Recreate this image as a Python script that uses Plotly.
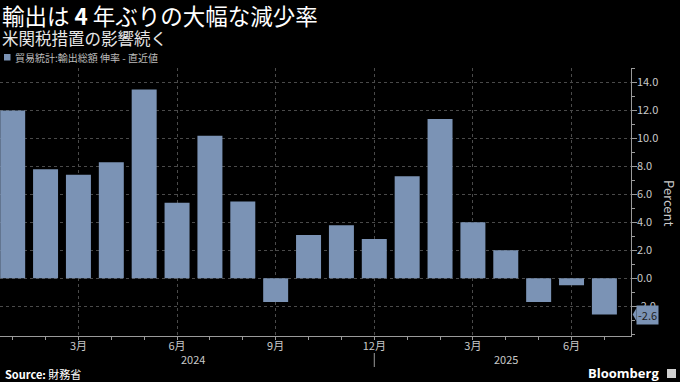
import plotly.graph_objects as go

# ---- data ----
months = ["2024-01", "2024-02", "2024-03", "2024-04", "2024-05", "2024-06", "2024-07",
          "2024-08", "2024-09", "2024-10", "2024-11", "2024-12", "2025-01", "2025-02",
          "2025-03", "2025-04", "2025-05", "2025-06", "2025-07"]
export_growth = [12.0, 7.8, 7.4, 8.3, 13.5, 5.4, 10.2, 5.5, -1.7, 3.1, 3.8, 2.8,
                 7.3, 11.4, 4.0, 2.0, -1.7, -0.5, -2.6]
quarter_idx = [2, 5, 8, 11, 14, 17]
quarter_labels = ["3月", "6月", "9月", "12月", "3月", "6月"]
years = ["2024", "2025"]
y_tickvals = [-2, 0, 2, 4, 6, 8, 10, 12, 14]

W, H = 680, 382
def px(x):
    return x / W
def py(y):
    return 1 - y / H

BAR = "#7b93b5"
FONT = "Noto Sans CJK JP"
TICKC = "#c9c9c9"

x_idx = list(range(len(months)))

fig = go.Figure()
fig.add_trace(go.Bar(x=x_idx, y=export_growth, marker=dict(color=BAR, line=dict(width=0)),
                     showlegend=False, hoverinfo="skip"))

fig.update_layout(
    width=W, height=H,
    margin=dict(l=0, r=0, t=0, b=0),
    paper_bgcolor="#000000", plot_bgcolor="#000000",
    bargap=0.24,
    font=dict(family=FONT, color=TICKC, size=11),
    xaxis=dict(
        domain=[0, px(630.7)],
        range=[-0.386, 18.8],
        tickmode="array", tickvals=quarter_idx, ticktext=quarter_labels,
        ticks="outside", ticklen=3, tickcolor="#9a9a9a", tickwidth=1,
        ticklabelstandoff=-3,
        showgrid=True, gridcolor="#4a4a4a", griddash="dot", gridwidth=1,
        showline=True, linecolor="#9a9a9a", linewidth=1,
        zeroline=False,
        tickfont=dict(size=11, color=TICKC, family=FONT),
        minor=dict(tickmode="linear", tick0=0, dtick=1, ticks="outside", ticklen=3,
                   tickcolor="#9a9a9a", showgrid=False),
    ),
    yaxis=dict(
        domain=[py(336), py(68.3)],
        range=[-4.13, 15.02],
        side="right",
        tickmode="array", tickvals=y_tickvals,
        ticktext=[f"{v:.1f}" for v in y_tickvals],
        ticks="outside", ticklen=5, tickcolor="#9a9a9a",
        ticklabelstandoff=-2,
        showgrid=True, gridcolor="#4a4a4a", griddash="dot", gridwidth=1,
        showline=True, linecolor="#9a9a9a", linewidth=1,
        zeroline=False,
        tickfont=dict(size=11, color=TICKC, family=FONT),
        minor=dict(tickmode="linear", tick0=0, dtick=1, ticks="outside", ticklen=3,
                   tickcolor="#9a9a9a", showgrid=False),
    ),
)

ann = []
# title & subtitle
ann.append(dict(x=px(0), y=py(15), xref="paper", yref="paper", xanchor="left", yanchor="middle",
                text="輸出は <b>4</b> 年ぶりの大幅な減少率", showarrow=False,
                font=dict(size=22.5, color="#ffffff", family=FONT)))
ann.append(dict(x=px(0), y=py(38.5), xref="paper", yref="paper", xanchor="left", yanchor="middle",
                text="米関税措置の影響続く", showarrow=False,
                font=dict(size=16.5, color="#e6e6e6", family=FONT)))
# legend
ann.append(dict(x=px(13), y=py(57), xref="paper", yref="paper", xanchor="left", yanchor="middle",
                text="貿易統計:輸出総額 伸率 - 直近値", showarrow=False,
                font=dict(size=10, color="#bdbdbd", family=FONT)))
# y-axis title
ann.append(dict(x=px(670), y=py(203), xref="paper", yref="paper", xanchor="center", yanchor="middle",
                text="Percent", textangle=90, showarrow=False,
                font=dict(size=13, color=TICKC, family=FONT)))
# year labels
year_centers = [(0 + 11) / 2, (12 + 18) / 2]
for yr, xc in zip(years, year_centers):
    ann.append(dict(x=xc, y=py(359), xref="x", yref="paper", xanchor="center", yanchor="middle",
                    text=yr, showarrow=False, font=dict(size=11, color=TICKC, family=FONT)))
# last value tag
last_val = export_growth[-1]
ann.append(dict(x=px(636), y=last_val, xref="paper", yref="y", xanchor="left", yanchor="middle",
                text=f"{last_val:.1f}", showarrow=False, bgcolor=BAR, borderpad=1,
                font=dict(size=11, color="#1e1e1e", family=FONT)))
# source
ann.append(dict(x=px(3), y=py(374), xref="paper", yref="paper", xanchor="left", yanchor="middle",
                text="<b>Source:</b> 財務省", showarrow=False,
                font=dict(size=11, color="#ffffff", family=FONT)))
# Bloomberg
ann.append(dict(x=px(661), y=py(373), xref="paper", yref="paper", xanchor="right", yanchor="middle",
                text="<b>Bloomberg</b>", showarrow=False,
                font=dict(size=13, color="#ffffff", family="Open Sans")))
fig.update_layout(annotations=ann)

shapes = []
# legend swatch
shapes.append(dict(type="rect", xref="paper", yref="paper", x0=px(4), x1=px(10.5),
                   y0=py(60.5), y1=py(54), fillcolor=BAR, line=dict(width=0)))
# tag arrow
shapes.append(dict(type="path", xref="paper", yref="y",
                   path=f"M {px(632.7)},{last_val} L {px(636.5)},{last_val + 0.48} L {px(636.5)},{last_val - 0.48} Z",
                   fillcolor=BAR, line=dict(width=0)))
# year separator
shapes.append(dict(type="line", xref="x", yref="paper", x0=11, x1=11, y0=py(353), y1=py(367),
                   line=dict(color="#9a9a9a", width=1)))
# Bloomberg icon
shapes.append(dict(type="rect", xref="paper", yref="paper", x0=px(667), x1=px(676),
                   y0=py(378), y1=py(369), fillcolor="#d0d0d0", line=dict(width=0)))
fig.update_layout(shapes=shapes)

fig.write_html("out.html", config={"displayModeBar": False},
               post_script="document.body.style.margin='0';document.body.style.overflow='hidden';")
